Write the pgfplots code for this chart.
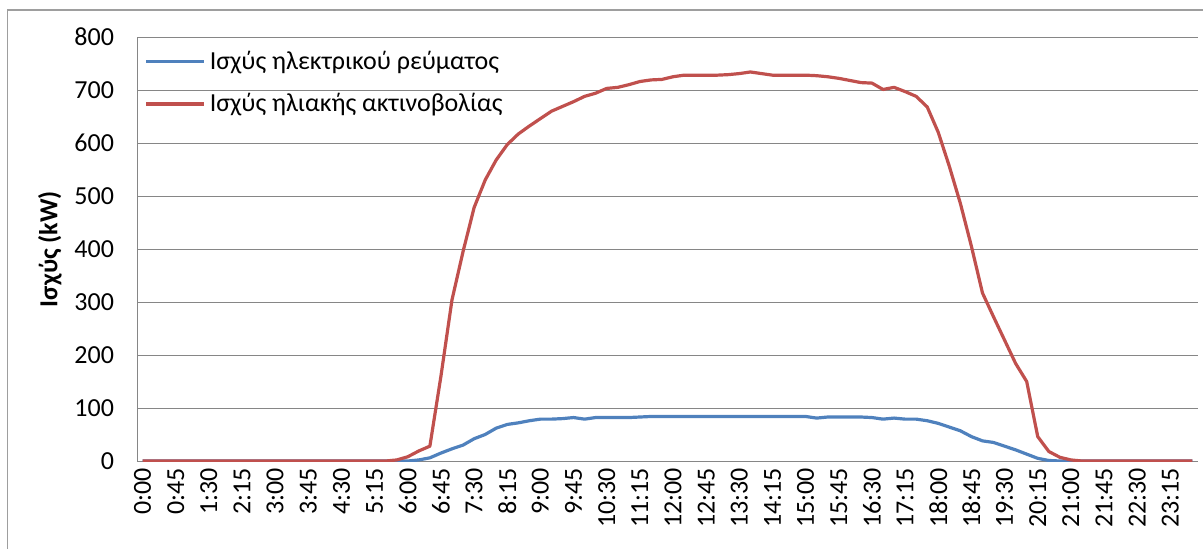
\documentclass[border=0pt]{standalone}
\usepackage{pgfplots}
\pgfplotsset{compat=1.18}
\usepackage{fontspec}
\setmainfont{Carlito}
\definecolor{xlblue}{RGB}{79,129,189}
\definecolor{xlred}{RGB}{192,80,77}
\definecolor{gridgray}{RGB}{134,134,134}
\begin{document}
\begin{tikzpicture}[x=0.5pt,y=0.5pt]
\useasboundingbox (0,0) rectangle (1203,548);
\draw[gridgray!80, line width=0.6pt] (7.5,-5) -- (7.5,538) -- (1210,538);
\begin{axis}[
    at={(68.5pt,43.5pt)}, anchor=south west,
    scale only axis,
    width=530.5pt, height=212pt,
    xmin=-0.5, xmax=95.5,
    ymin=0, ymax=800,
    ytick={0,100,...,800},
    xtick={0,3,...,93},
    xticklabels={0:00,0:45,1:30,2:15,3:00,3:45,4:30,5:15,6:00,6:45,7:30,8:15,9:00,9:45,10:30,11:15,12:00,12:45,13:30,14:15,15:00,15:45,16:30,17:15,18:00,18:45,19:30,20:15,21:00,21:45,22:30,23:15},
    axis lines*=left,
    axis line style={gridgray, line width=0.5pt},
    ymajorgrids=true,
    grid style={gridgray, line width=0.5pt},
    major tick length=0pt,
    /pgf/number format/assume math mode=true,
    tick label style={font=\fontsize{13}{15}\selectfont},
    xticklabel style={rotate=90, anchor=east},
    yticklabel style={anchor=east, xshift=-8pt},
    ylabel={\bfseries Ισχύς (kW)},
    ylabel style={font=\fontsize{13}{15}\selectfont, at={(axis description cs:-0.082,0.5)}, anchor=center},
    legend style={draw=none, fill=none, at={(0.005,0.982)}, anchor=north west,
        font=\fontsize{13}{15}\selectfont, row sep=6.5pt, inner sep=1pt},
    legend cell align=left,
    legend image code/.code={\draw[#1] (0pt,0pt) -- (29pt,0pt);},
    every axis plot/.append style={line width=1.6pt, line join=round},
]
\addplot[xlblue] coordinates {
(0,0) (1,0) (2,0) (3,0) (4,0) (5,0) (6,0) (7,0) (8,0) (9,0)
(10,0) (11,0) (12,0) (13,0) (14,0) (15,0) (16,0) (17,0) (18,0) (19,0)
(20,0) (21,0) (22,0) (23,0) (24,0) (25,2) (26,6) (27,15) (28,23) (29,30)
(30,42) (31,50) (32,62) (33,69) (34,72) (35,76) (36,79) (37,79) (38,80) (39,82)
(40,79) (41,82) (42,82) (43,82) (44,82) (45,83) (46,84) (47,84) (48,84) (49,84)
(50,84) (51,84) (52,84) (53,84) (54,84) (55,84) (56,84) (57,84) (58,84) (59,84)
(60,84) (61,81) (62,83) (63,83) (64,83) (65,83) (66,82) (67,79) (68,81) (69,79)
(70,79) (71,76) (72,71) (73,64) (74,57) (75,46) (76,38) (77,35) (78,28) (79,21)
(80,13) (81,5) (82,1) (83,0) (84,0) (85,0) (86,0) (87,0) (88,0) (89,0)
(90,0) (91,0) (92,0) (93,0) (94,0) (95,0)
};
\addlegendentry{Ισχύς ηλεκτρικού ρεύματος}
\addplot[xlred] coordinates {
(0,0) (1,0) (2,0) (3,0) (4,0) (5,0) (6,0) (7,0) (8,0) (9,0)
(10,0) (11,0) (12,0) (13,0) (14,0) (15,0) (16,0) (17,0) (18,0) (19,0)
(20,0) (21,0) (22,0) (23,2) (24,8) (25,19) (26,28) (27,160) (28,304) (29,395)
(30,478) (31,530) (32,568) (33,597) (34,617) (35,632) (36,646) (37,660) (38,669) (39,678)
(40,688) (41,694) (42,703) (43,705) (44,710) (45,716) (46,719) (47,720) (48,725) (49,728)
(50,728) (51,728) (52,728) (53,729) (54,731) (55,734) (56,731) (57,728) (58,728) (59,728)
(60,728) (61,727) (62,725) (63,722) (64,718) (65,714) (66,713) (67,701) (68,705) (69,697)
(70,688) (71,668) (72,620) (73,556) (74,486) (75,405) (76,317) (77,272) (78,228) (79,184)
(80,150) (81,46) (82,18) (83,7) (84,2) (85,0) (86,0) (87,0) (88,0) (89,0)
(90,0) (91,0) (92,0) (93,0) (94,0) (95,0)
};
\addlegendentry{Ισχύς ηλιακής ακτινοβολίας}
\end{axis}
\end{tikzpicture}
\end{document}
